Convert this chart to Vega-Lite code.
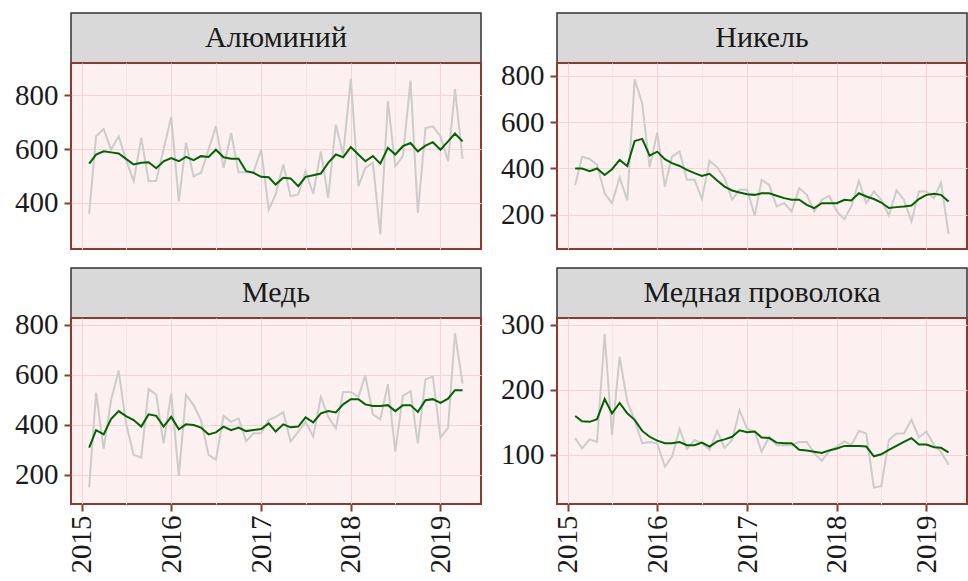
{
  "$schema": "https://vega.github.io/schema/vega-lite/v6.json",
  "padding": {"left": 13, "top": 12, "right": 0, "bottom": 0},
  "background": "white",
  "config": {
    "font": "Liberation Serif, Times New Roman, serif",
    "view": {"fill": "#FCF0F0", "stroke": "#8B3A2E", "strokeWidth": 2},
    "text": {"font": "Liberation Serif, Times New Roman, serif"},
    "axis": {"labelFont": "Liberation Serif, Times New Roman, serif", "labelFontSize": 29, "labelColor": "#1A1A1A", "tickColor": "#8B3A2E", "tickWidth": 2, "tickSize": 7, "domain": false, "gridWidth": 1, "gridColor": "#F4D3D3", "labelPadding": 6, "labelOverlap": false}
  },
  "datasets": {
    "al": [
      {"date":"2015-02-01","raw":360,"smooth":546},{"date":"2015-03-01","raw":648,"smooth":580},{"date":"2015-04-01","raw":675,"smooth":592},{"date":"2015-05-01","raw":598,"smooth":588},{"date":"2015-06-01","raw":648,"smooth":584},{"date":"2015-07-01","raw":561,"smooth":564},{"date":"2015-08-01","raw":481,"smooth":543},{"date":"2015-09-01","raw":642,"smooth":549},{"date":"2015-10-01","raw":481,"smooth":551},{"date":"2015-11-01","raw":481,"smooth":529},{"date":"2015-12-01","raw":600,"smooth":555},
      {"date":"2016-01-01","raw":720,"smooth":567},{"date":"2016-02-01","raw":406,"smooth":555},{"date":"2016-03-01","raw":623,"smooth":571},{"date":"2016-04-01","raw":499,"smooth":559},{"date":"2016-05-01","raw":512,"smooth":574},{"date":"2016-06-01","raw":598,"smooth":571},{"date":"2016-07-01","raw":685,"smooth":598},{"date":"2016-08-01","raw":530,"smooth":570},{"date":"2016-09-01","raw":660,"smooth":564},{"date":"2016-10-01","raw":514,"smooth":564},{"date":"2016-11-01","raw":514,"smooth":518},{"date":"2016-12-01","raw":514,"smooth":512},
      {"date":"2017-01-01","raw":598,"smooth":497},{"date":"2017-02-01","raw":375,"smooth":495},{"date":"2017-03-01","raw":431,"smooth":468},{"date":"2017-04-01","raw":543,"smooth":493},{"date":"2017-05-01","raw":425,"smooth":491},{"date":"2017-06-01","raw":431,"smooth":462},{"date":"2017-07-01","raw":518,"smooth":497},{"date":"2017-08-01","raw":433,"smooth":503},{"date":"2017-09-01","raw":592,"smooth":509},{"date":"2017-10-01","raw":419,"smooth":549},{"date":"2017-11-01","raw":691,"smooth":580},{"date":"2017-12-01","raw":580,"smooth":570},
      {"date":"2018-01-01","raw":862,"smooth":608},{"date":"2018-02-01","raw":462,"smooth":580},{"date":"2018-03-01","raw":530,"smooth":555},{"date":"2018-04-01","raw":549,"smooth":574},{"date":"2018-05-01","raw":282,"smooth":546},{"date":"2018-06-01","raw":778,"smooth":605},{"date":"2018-07-01","raw":536,"smooth":580},{"date":"2018-08-01","raw":574,"smooth":611},{"date":"2018-09-01","raw":856,"smooth":623},{"date":"2018-10-01","raw":363,"smooth":592},{"date":"2018-11-01","raw":679,"smooth":613},{"date":"2018-12-01","raw":685,"smooth":626},
      {"date":"2019-01-01","raw":648,"smooth":598},{"date":"2019-02-01","raw":555,"smooth":629},{"date":"2019-03-01","raw":824,"smooth":658},{"date":"2019-04-01","raw":564,"smooth":629}
    ],
    "ni": [
      {"date":"2015-02-01","raw":329,"smooth":400},{"date":"2015-03-01","raw":451,"smooth":400},{"date":"2015-04-01","raw":441,"smooth":388},{"date":"2015-05-01","raw":416,"smooth":400},{"date":"2015-06-01","raw":293,"smooth":372},{"date":"2015-07-01","raw":250,"smooth":397},{"date":"2015-08-01","raw":362,"smooth":437},{"date":"2015-09-01","raw":262,"smooth":411},{"date":"2015-10-01","raw":786,"smooth":519},{"date":"2015-11-01","raw":681,"smooth":528},{"date":"2015-12-01","raw":405,"smooth":456},
      {"date":"2016-01-01","raw":555,"smooth":473},{"date":"2016-02-01","raw":322,"smooth":440},{"date":"2016-03-01","raw":451,"smooth":423},{"date":"2016-04-01","raw":473,"smooth":411},{"date":"2016-05-01","raw":351,"smooth":394},{"date":"2016-06-01","raw":351,"smooth":380},{"date":"2016-07-01","raw":268,"smooth":368},{"date":"2016-08-01","raw":433,"smooth":377},{"date":"2016-09-01","raw":405,"smooth":348},{"date":"2016-10-01","raw":358,"smooth":322},{"date":"2016-11-01","raw":265,"smooth":305},{"date":"2016-12-01","raw":308,"smooth":296},
      {"date":"2017-01-01","raw":308,"smooth":289},{"date":"2017-02-01","raw":196,"smooth":286},{"date":"2017-03-01","raw":351,"smooth":293},{"date":"2017-04-01","raw":329,"smooth":293},{"date":"2017-05-01","raw":236,"smooth":282},{"date":"2017-06-01","raw":250,"smooth":272},{"date":"2017-07-01","raw":214,"smooth":265},{"date":"2017-08-01","raw":315,"smooth":265},{"date":"2017-09-01","raw":286,"smooth":243},{"date":"2017-10-01","raw":214,"smooth":229},{"date":"2017-11-01","raw":265,"smooth":250},{"date":"2017-12-01","raw":282,"smooth":250},
      {"date":"2018-01-01","raw":214,"smooth":250},{"date":"2018-02-01","raw":181,"smooth":265},{"date":"2018-03-01","raw":236,"smooth":262},{"date":"2018-04-01","raw":347,"smooth":293},{"date":"2018-05-01","raw":250,"smooth":279},{"date":"2018-06-01","raw":301,"smooth":268},{"date":"2018-07-01","raw":265,"smooth":253},{"date":"2018-08-01","raw":197,"smooth":229},{"date":"2018-09-01","raw":305,"smooth":233},{"date":"2018-10-01","raw":265,"smooth":236},{"date":"2018-11-01","raw":171,"smooth":240},{"date":"2018-12-01","raw":301,"smooth":268},
      {"date":"2019-01-01","raw":301,"smooth":286},{"date":"2019-02-01","raw":272,"smooth":291},{"date":"2019-03-01","raw":339,"smooth":286},{"date":"2019-04-01","raw":118,"smooth":257}
    ],
    "cu": [
      {"date":"2015-02-01","raw":150,"smooth":309},{"date":"2015-03-01","raw":528,"smooth":379},{"date":"2015-04-01","raw":304,"smooth":362},{"date":"2015-05-01","raw":499,"smooth":423},{"date":"2015-06-01","raw":618,"smooth":455},{"date":"2015-07-01","raw":406,"smooth":435},{"date":"2015-08-01","raw":280,"smooth":419},{"date":"2015-09-01","raw":269,"smooth":393},{"date":"2015-10-01","raw":543,"smooth":442},{"date":"2015-11-01","raw":521,"smooth":436},{"date":"2015-12-01","raw":326,"smooth":393},
      {"date":"2016-01-01","raw":525,"smooth":432},{"date":"2016-02-01","raw":196,"smooth":382},{"date":"2016-03-01","raw":521,"smooth":402},{"date":"2016-04-01","raw":479,"smooth":399},{"date":"2016-05-01","raw":419,"smooth":389},{"date":"2016-06-01","raw":280,"smooth":362},{"date":"2016-07-01","raw":260,"smooth":370},{"date":"2016-08-01","raw":436,"smooth":393},{"date":"2016-09-01","raw":412,"smooth":379},{"date":"2016-10-01","raw":426,"smooth":389},{"date":"2016-11-01","raw":335,"smooth":375},{"date":"2016-12-01","raw":366,"smooth":379},
      {"date":"2017-01-01","raw":366,"smooth":383},{"date":"2017-02-01","raw":419,"smooth":406},{"date":"2017-03-01","raw":432,"smooth":373},{"date":"2017-04-01","raw":450,"smooth":402},{"date":"2017-05-01","raw":333,"smooth":390},{"date":"2017-06-01","raw":373,"smooth":393},{"date":"2017-07-01","raw":412,"smooth":430},{"date":"2017-08-01","raw":353,"smooth":410},{"date":"2017-09-01","raw":512,"smooth":446},{"date":"2017-10-01","raw":432,"smooth":455},{"date":"2017-11-01","raw":386,"smooth":450},{"date":"2017-12-01","raw":532,"smooth":482},
      {"date":"2018-01-01","raw":532,"smooth":503},{"date":"2018-02-01","raw":512,"smooth":503},{"date":"2018-03-01","raw":598,"smooth":482},{"date":"2018-04-01","raw":442,"smooth":476},{"date":"2018-05-01","raw":422,"smooth":476},{"date":"2018-06-01","raw":563,"smooth":479},{"date":"2018-07-01","raw":293,"smooth":455},{"date":"2018-08-01","raw":516,"smooth":479},{"date":"2018-09-01","raw":535,"smooth":479},{"date":"2018-10-01","raw":326,"smooth":452},{"date":"2018-11-01","raw":582,"smooth":499},{"date":"2018-12-01","raw":593,"smooth":503},
      {"date":"2019-01-01","raw":349,"smooth":488},{"date":"2019-02-01","raw":389,"smooth":505},{"date":"2019-03-01","raw":767,"smooth":539},{"date":"2019-04-01","raw":565,"smooth":539}
    ],
    "wire": [
      {"date":"2015-02-01","raw":126,"smooth":160},{"date":"2015-03-01","raw":110,"smooth":152},{"date":"2015-04-01","raw":124,"smooth":151},{"date":"2015-05-01","raw":120,"smooth":155},{"date":"2015-06-01","raw":286,"smooth":186},{"date":"2015-07-01","raw":131,"smooth":164},{"date":"2015-08-01","raw":251,"smooth":180},{"date":"2015-09-01","raw":182,"smooth":164},{"date":"2015-10-01","raw":154,"smooth":154},{"date":"2015-11-01","raw":118,"smooth":137},{"date":"2015-12-01","raw":120,"smooth":128},
      {"date":"2016-01-01","raw":118,"smooth":122},{"date":"2016-02-01","raw":82,"smooth":118},{"date":"2016-03-01","raw":97,"smooth":118},{"date":"2016-04-01","raw":140,"smooth":120},{"date":"2016-05-01","raw":109,"smooth":115},{"date":"2016-06-01","raw":123,"smooth":115},{"date":"2016-07-01","raw":118,"smooth":119},{"date":"2016-08-01","raw":108,"smooth":113},{"date":"2016-09-01","raw":137,"smooth":121},{"date":"2016-10-01","raw":111,"smooth":124},{"date":"2016-11-01","raw":123,"smooth":128},{"date":"2016-12-01","raw":169,"smooth":138},
      {"date":"2017-01-01","raw":140,"smooth":135},{"date":"2017-02-01","raw":136,"smooth":136},{"date":"2017-03-01","raw":105,"smooth":127},{"date":"2017-04-01","raw":128,"smooth":126},{"date":"2017-05-01","raw":115,"smooth":119},{"date":"2017-06-01","raw":115,"smooth":118},{"date":"2017-07-01","raw":115,"smooth":118},{"date":"2017-08-01","raw":120,"smooth":108},{"date":"2017-09-01","raw":120,"smooth":107},{"date":"2017-10-01","raw":103,"smooth":105},{"date":"2017-11-01","raw":91,"smooth":103},{"date":"2017-12-01","raw":106,"smooth":107},
      {"date":"2018-01-01","raw":113,"smooth":110},{"date":"2018-02-01","raw":121,"smooth":114},{"date":"2018-03-01","raw":115,"smooth":114},{"date":"2018-04-01","raw":137,"smooth":114},{"date":"2018-05-01","raw":133,"smooth":113},{"date":"2018-06-01","raw":50,"smooth":98},{"date":"2018-07-01","raw":52,"smooth":101},{"date":"2018-08-01","raw":123,"smooth":108},{"date":"2018-09-01","raw":133,"smooth":114},{"date":"2018-10-01","raw":133,"smooth":120},{"date":"2018-11-01","raw":154,"smooth":126},{"date":"2018-12-01","raw":127,"smooth":116},
      {"date":"2019-01-01","raw":136,"smooth":116},{"date":"2019-02-01","raw":115,"smooth":112},{"date":"2019-03-01","raw":105,"smooth":111},{"date":"2019-04-01","raw":85,"smooth":104}
    ]
  },
  "columns": 2,
  "spacing": {"row": 17, "column": 17},
  "concat": [
    {
      "spacing": 0, "bounds": "flush",
      "vconcat": [
        {"width": 410, "height": 50, "view": {"fill": "#D9D9D9", "stroke": "#333333", "strokeWidth": 1.5},
         "data": {"values": [{"name": "Алюминий"}]},
         "mark": {"type": "text", "fontSize": 30, "color": "#1A1A1A"},
         "encoding": {"text": {"field": "name"}}},
        {"width": 410, "height": 186, "data": {"name": "al"},
         "resolve": {"axis": {"y": "independent"}},
         "encoding": {"x": {"field": "date", "type": "temporal", "title": null,
            "scale": {"type": "utc", "domain": [{"year":2014,"month":11,"date":19,"utc":true},{"year":2019,"month":6,"date":15,"utc":true}]},
            "axis": {"labels": false, "ticks": false,
              "values": [{"year":2015,"month":1,"date":1,"utc":true},{"year":2015,"month":7,"date":1,"utc":true},{"year":2016,"month":1,"date":1,"utc":true},{"year":2016,"month":7,"date":1,"utc":true},{"year":2017,"month":1,"date":1,"utc":true},{"year":2017,"month":7,"date":1,"utc":true},{"year":2018,"month":1,"date":1,"utc":true},{"year":2018,"month":7,"date":1,"utc":true},{"year":2019,"month":1,"date":1,"utc":true}],
              "gridColor": {"condition": {"test": "utcmonth(datum.value) == 0", "value": "#F4D3D3"}, "value": "#F8E4E4"}}}},
         "layer": [
          {"mark": {"type": "line", "color": "#CCCCCC", "strokeWidth": 2},
           "encoding": {"y": {"field": "raw", "type": "quantitative", "title": null,
             "scale": {"domain": [228, 921], "nice": false, "zero": false},
             "axis": {"orient": "left", "values": [400,600,800]}}}},
          {"mark": {"type": "line", "color": "#006400", "strokeWidth": 2},
           "encoding": {"y": {"field": "smooth", "type": "quantitative", "title": null,
             "scale": {"domain": [228, 921], "nice": false, "zero": false},
             "axis": {"orient": "right", "values": [300,500,700,900], "labels": false, "ticks": false, "gridColor": "#F8E4E4"}}}}
         ]}
      ]
    },
    {
      "spacing": 0, "bounds": "flush",
      "vconcat": [
        {"width": 410, "height": 50, "view": {"fill": "#D9D9D9", "stroke": "#333333", "strokeWidth": 1.5},
         "data": {"values": [{"name": "Никель"}]},
         "mark": {"type": "text", "fontSize": 30, "color": "#1A1A1A"},
         "encoding": {"text": {"field": "name"}}},
        {"width": 410, "height": 186, "data": {"name": "ni"},
         "resolve": {"axis": {"y": "independent"}},
         "encoding": {"x": {"field": "date", "type": "temporal", "title": null,
            "scale": {"type": "utc", "domain": [{"year":2014,"month":11,"date":19,"utc":true},{"year":2019,"month":6,"date":15,"utc":true}]},
            "axis": {"labels": false, "ticks": false,
              "values": [{"year":2015,"month":1,"date":1,"utc":true},{"year":2015,"month":7,"date":1,"utc":true},{"year":2016,"month":1,"date":1,"utc":true},{"year":2016,"month":7,"date":1,"utc":true},{"year":2017,"month":1,"date":1,"utc":true},{"year":2017,"month":7,"date":1,"utc":true},{"year":2018,"month":1,"date":1,"utc":true},{"year":2018,"month":7,"date":1,"utc":true},{"year":2019,"month":1,"date":1,"utc":true}],
              "gridColor": {"condition": {"test": "utcmonth(datum.value) == 0", "value": "#F4D3D3"}, "value": "#F8E4E4"}}}},
         "layer": [
          {"mark": {"type": "line", "color": "#CCCCCC", "strokeWidth": 2},
           "encoding": {"y": {"field": "raw", "type": "quantitative", "title": null,
             "scale": {"domain": [52, 856], "nice": false, "zero": false},
             "axis": {"orient": "left", "values": [200,400,600,800]}}}},
          {"mark": {"type": "line", "color": "#006400", "strokeWidth": 2},
           "encoding": {"y": {"field": "smooth", "type": "quantitative", "title": null,
             "scale": {"domain": [52, 856], "nice": false, "zero": false},
             "axis": {"orient": "right", "values": [100,300,500,700], "labels": false, "ticks": false, "gridColor": "#F8E4E4"}}}}
         ]}
      ]
    },
    {
      "spacing": 0, "bounds": "flush",
      "vconcat": [
        {"width": 410, "height": 50, "view": {"fill": "#D9D9D9", "stroke": "#333333", "strokeWidth": 1.5},
         "data": {"values": [{"name": "Медь"}]},
         "mark": {"type": "text", "fontSize": 30, "color": "#1A1A1A"},
         "encoding": {"text": {"field": "name"}}},
        {"width": 410, "height": 186, "data": {"name": "cu"},
         "resolve": {"axis": {"y": "independent"}},
         "encoding": {"x": {"field": "date", "type": "temporal", "title": null,
            "scale": {"type": "utc", "domain": [{"year":2014,"month":11,"date":19,"utc":true},{"year":2019,"month":6,"date":15,"utc":true}]},
            "axis": {"labelAngle": 270, "labelPadding": 4,
              "values": [{"year":2015,"month":1,"date":1,"utc":true},{"year":2015,"month":7,"date":1,"utc":true},{"year":2016,"month":1,"date":1,"utc":true},{"year":2016,"month":7,"date":1,"utc":true},{"year":2017,"month":1,"date":1,"utc":true},{"year":2017,"month":7,"date":1,"utc":true},{"year":2018,"month":1,"date":1,"utc":true},{"year":2018,"month":7,"date":1,"utc":true},{"year":2019,"month":1,"date":1,"utc":true}],
              "labelExpr": "utcmonth(datum.value) == 0 ? utcFormat(datum.value, '%Y') : ''",
              "labelFontSize": {"condition": {"test": "utcmonth(datum.value) == 0", "value": 29}, "value": 0},
              "tickOpacity": {"condition": {"test": "utcmonth(datum.value) == 0", "value": 1}, "value": 0},
              "gridColor": {"condition": {"test": "utcmonth(datum.value) == 0", "value": "#F4D3D3"}, "value": "#F8E4E4"}}}},
         "layer": [
          {"mark": {"type": "line", "color": "#CCCCCC", "strokeWidth": 2},
           "encoding": {"y": {"field": "raw", "type": "quantitative", "title": null,
             "scale": {"domain": [83, 828], "nice": false, "zero": false},
             "axis": {"orient": "left", "values": [200,400,600,800]}}}},
          {"mark": {"type": "line", "color": "#006400", "strokeWidth": 2},
           "encoding": {"y": {"field": "smooth", "type": "quantitative", "title": null,
             "scale": {"domain": [83, 828], "nice": false, "zero": false},
             "axis": {"orient": "right", "values": [100,300,500,700], "labels": false, "ticks": false, "gridColor": "#F8E4E4"}}}}
         ]}
      ]
    },
    {
      "spacing": 0, "bounds": "flush",
      "vconcat": [
        {"width": 410, "height": 50, "view": {"fill": "#D9D9D9", "stroke": "#333333", "strokeWidth": 1.5},
         "data": {"values": [{"name": "Медная проволока"}]},
         "mark": {"type": "text", "fontSize": 30, "color": "#1A1A1A"},
         "encoding": {"text": {"field": "name"}}},
        {"width": 410, "height": 186, "data": {"name": "wire"},
         "resolve": {"axis": {"y": "independent"}},
         "encoding": {"x": {"field": "date", "type": "temporal", "title": null,
            "scale": {"type": "utc", "domain": [{"year":2014,"month":11,"date":19,"utc":true},{"year":2019,"month":6,"date":15,"utc":true}]},
            "axis": {"labelAngle": 270, "labelPadding": 4,
              "values": [{"year":2015,"month":1,"date":1,"utc":true},{"year":2015,"month":7,"date":1,"utc":true},{"year":2016,"month":1,"date":1,"utc":true},{"year":2016,"month":7,"date":1,"utc":true},{"year":2017,"month":1,"date":1,"utc":true},{"year":2017,"month":7,"date":1,"utc":true},{"year":2018,"month":1,"date":1,"utc":true},{"year":2018,"month":7,"date":1,"utc":true},{"year":2019,"month":1,"date":1,"utc":true}],
              "labelExpr": "utcmonth(datum.value) == 0 ? utcFormat(datum.value, '%Y') : ''",
              "labelFontSize": {"condition": {"test": "utcmonth(datum.value) == 0", "value": 29}, "value": 0},
              "tickOpacity": {"condition": {"test": "utcmonth(datum.value) == 0", "value": 1}, "value": 0},
              "gridColor": {"condition": {"test": "utcmonth(datum.value) == 0", "value": "#F4D3D3"}, "value": "#F8E4E4"}}}},
         "layer": [
          {"mark": {"type": "line", "color": "#CCCCCC", "strokeWidth": 2},
           "encoding": {"y": {"field": "raw", "type": "quantitative", "title": null,
             "scale": {"domain": [24.6, 310.7], "nice": false, "zero": false},
             "axis": {"orient": "left", "values": [100,200,300]}}}},
          {"mark": {"type": "line", "color": "#006400", "strokeWidth": 2},
           "encoding": {"y": {"field": "smooth", "type": "quantitative", "title": null,
             "scale": {"domain": [24.6, 310.7], "nice": false, "zero": false},
             "axis": {"orient": "right", "values": [50,150,250], "labels": false, "ticks": false, "gridColor": "#F8E4E4"}}}}
         ]}
      ]
    }
  ]
}
